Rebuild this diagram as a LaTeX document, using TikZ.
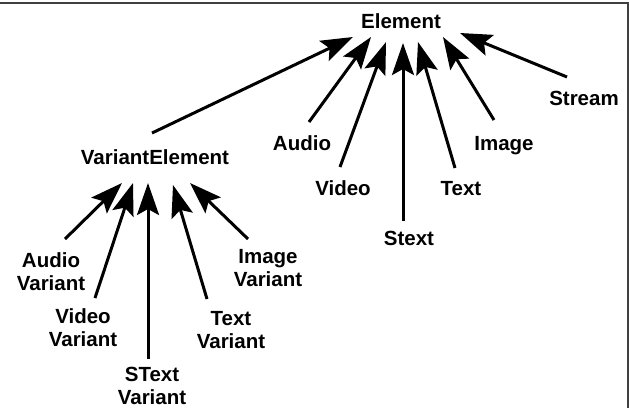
\documentclass[tikz,border=0pt]{standalone}
\usepackage{fontspec}
\setmainfont{Liberation Sans}
\usetikzlibrary{arrows.meta}
\tikzset{
	hier/.style={x=1pt,y=-1pt,>={Stealth[length=32pt,width=22pt,inset=6pt]},
		line width=3pt},
	cls/.style={font=\bfseries\fontsize{20.5}{23}\selectfont,align=center,
		inner sep=0pt,text depth=0pt},
	frame/.style={draw=black!75,line width=1.5pt}
}

\begin{document}
\begin{tikzpicture}[hier]
	\useasboundingbox (0,0) rectangle (629,408);
	\draw[frame] (0,3) -- (628,3) -- (628,408);
	
	\node[cls] (elem) at (401,21) {Element};
	\node[cls] (stream) at (584,98) {Stream};
	\node[cls] (image) at (504,143) {Image};
	\node[cls] (audio) at (302,143) {Audio};
	\node[cls] (video) at (343,188) {Video};
	\node[cls] (text) at (461,188) {Text};
	\node[cls] (stext) at (409,238) {Stext};
	\node[cls] (ve) at (155,157) {VariantElement};
	\node[cls] (audiov) at (51,272) {Audio\\Variant};
	\node[cls] (imagev) at (268,268) {Image\\Variant};
	\node[cls] (videov) at (83,328) {Video\\Variant};
	\node[cls] (textv) at (231,330) {Text\\Variant};
	\node[cls] (stextv) at (152,386) {SText\\Variant};
	
	\path[->] ([shift={(-3,-24)}]ve.center) edge ([shift={(-48,16)}]elem.center);
	\path[->] ([shift={(7,-21)}]audio.center) edge ([shift={(-30,16)}]elem.center);
	\path[->] ([shift={(-3,-21)}]video.center) edge ([shift={(-15,21)}]elem.center);
	\path[->] ([shift={(-6,-17)}]stext.center) edge ([shift={(2,22)}]elem.center);
	\path[->] ([shift={(-6,-20)}]text.center) edge ([shift={(17,21)}]elem.center);
	\path[->] ([shift={(-10,-23)}]image.center) edge ([shift={(42,16)}]elem.center);
	\path[->] ([shift={(-17,-21)}]stream.center) edge ([shift={(59,12)}]elem.center);
	
	\path[->] ([shift={(14,-33)}]audiov.center) edge ([shift={(-33,26)}]ve.center);
	\path[->] ([shift={(12,-30)}]videov.center) edge ([shift={(-22,26)}]ve.center);
	\path[->] ([shift={(-4,-27)}]stextv.center) edge ([shift={(-7,26)}]ve.center);
	\path[->] ([shift={(-24,-31)}]textv.center) edge ([shift={(18,28)}]ve.center);
	\path[->] ([shift={(-20,-29)}]imagev.center) edge ([shift={(35,26)}]ve.center);
	
\end{tikzpicture}
\end{document}
